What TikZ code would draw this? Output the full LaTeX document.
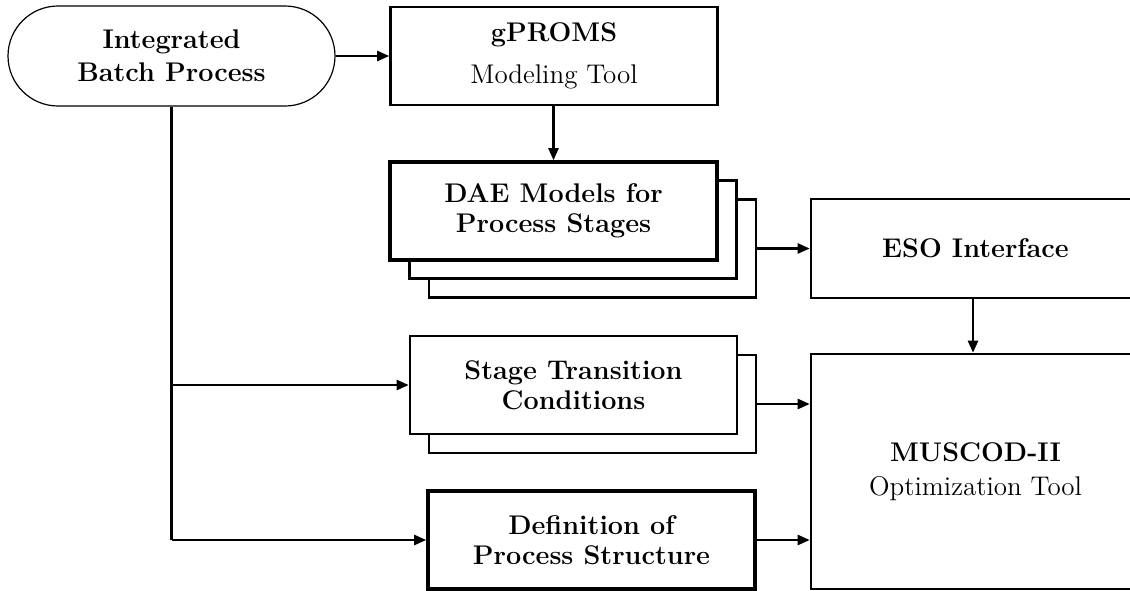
\documentclass[tikz,border=0pt]{standalone}
\usetikzlibrary{arrows.meta,shapes.misc}

\begin{document}
\begin{tikzpicture}[x=0.5pt, y=-0.5pt,
    box/.style={draw, line width=1.3pt, fill=white, inner sep=0pt, align=center,
      minimum width=163.5pt, minimum height=49pt,
      font=\fontsize{13.5}{15}\selectfont\bfseries},
    thickbox/.style={box, line width=1.8pt},
    conn/.style={line width=1.2pt, -{Triangle[length=6pt, width=5pt]}}]
    \clip (0,0) rectangle (1130,590);

    % 左上の入口
    \node[rounded rectangle, draw, line width=0.6pt, inner sep=0pt, align=center,
      minimum width=163.5pt, minimum height=50pt,
      font=\fontsize{13.5}{16.5}\selectfont\bfseries] (batch) at (171.5, 56) {Integrated\\Batch Process};
    \node[box] (gproms) at (554, 56) {gPROMS\\[6pt]\mdseries Modeling Tool};

    % 重なった箱
    \node[box] (dae3) at (592.5, 248.5) {};
    \node[box] (dae2) at (573, 229.5) {};
    \node[thickbox] (dae) at (553.5, 211) {DAE Models for\\Process Stages};
    \node[box] (stage2) at (592.5, 404) {};
    \node[box] (stage) at (573.5, 385) {Stage Transition\\Conditions};
    \node[thickbox] (def) at (591.5, 540) {Definition of\\Process Structure};

    % 右側
    \node[box, minimum width=164.5pt, minimum height=49.5pt] (eso) at (975.5, 248.5) {ESO Interface};
    \node[box, minimum width=164.5pt, minimum height=117.5pt] (muscod) at (975.5, 471.5)
      {MUSCOD-II\\[2pt]\mdseries Optimization Tool};

    % エッジを引く
    \draw[conn] (batch.east) -- (batch.east -| gproms.west);
    \draw[conn] (gproms.south -| dae.north) -- (dae.north);
    \draw[conn] (dae3.east) -- (dae3.east -| eso.west);
    \draw[conn] (eso.south -| 973,0) -- (muscod.north -| 973,0);
    \draw[conn] (stage2.east) -- (stage2.east -| muscod.west);
    \draw[conn] (def.east) -- (def.east -| muscod.west);

    % 左の幹線
    \coordinate (split1) at (batch.south |- stage.west);
    \coordinate (split2) at (batch.south |- def.west);
    \draw[line width=1.5pt] (batch.south) -- (split2);
    \draw[conn] (split1) -- (stage.west);
    \draw[conn] (split2) -- (def.west);
\end{tikzpicture}
\end{document}
